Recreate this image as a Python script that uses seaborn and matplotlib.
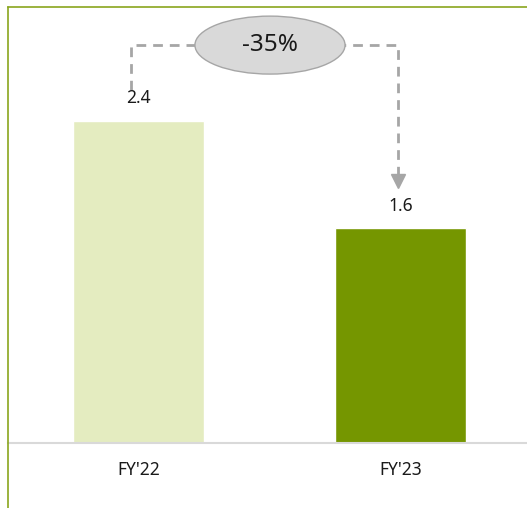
import numpy as np
import matplotlib.pyplot as plt
import seaborn as sns
import pandas as pd
from matplotlib.patches import Ellipse
from matplotlib.lines import Line2D

years = ["FY'22", "FY'23"]
values = [2.4, 1.6]
bar_colors = ["#e4ecc0", "#759600"]
change_label = "-35%"

sns.set_theme(style="white")
plt.rcParams['font.family'] = ['Noto Sans', 'DejaVu Sans']

df = pd.DataFrame({"year": years, "value": values})

fig = plt.figure(figsize=(5.27, 5.08), dpi=100)
ax = fig.add_axes([8 / 527, 1 - 443 / 508, 519 / 527, 436 / 508])

sns.barplot(data=df, x="year", y="value", hue="year", palette=bar_colors,
            width=0.5, legend=False, ax=ax, saturation=1)

ax.set_xlim(-0.498, 1.483)
ax.set_ylim(0, 3.25)
ax.set_xlabel("")
ax.set_ylabel("")
ax.set_yticks([])
ax.tick_params(axis="x", length=0, pad=13, labelsize=12.5, colors="#1a1a1a")

for s in ["right", "left"]:
    ax.spines[s].set_visible(False)
ax.spines["top"].set_color("#8aa61e")
ax.spines["top"].set_linewidth(1.2)
ax.spines["bottom"].set_color("#d9d9d9")
ax.spines["bottom"].set_linewidth(1.5)

# left border runs the full height
fig.add_artist(Line2D([8 / 527, 8 / 527], [0, 1 - 7 / 508], color="#8aa61e", lw=1.2))

# value labels
for i, v in enumerate(values):
    ax.text(i, v + 0.17, f"{v}", ha="center", va="center", fontsize=12.5, color="#1a1a1a")

# dashed connector
top_y = 2.966
ax.plot([-0.03, -0.03, 0.99, 0.99], [values[0] + 0.23, top_y, top_y, 1.99],
        ls=(0, (3.5, 2.5)), color="#a6a6a6", lw=2)
ax.plot([0.99], [1.95], marker="v", ms=10, color="#a6a6a6", mec="#a6a6a6")

ell = Ellipse((0.502, top_y), 0.573, 0.432, facecolor="#d9d9d9", edgecolor="#a6a6a6",
              lw=1, zorder=5)
ax.add_patch(ell)
ax.text(0.502, top_y, change_label, ha="center", va="center", fontsize=17.5,
        color="#1a1a1a", zorder=6)

plt.savefig("out.png", dpi=100)
